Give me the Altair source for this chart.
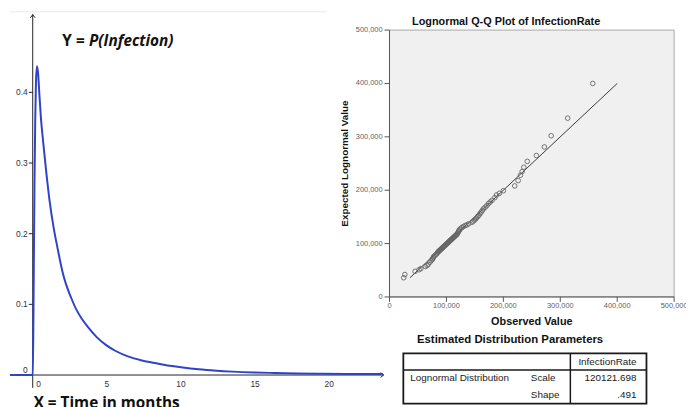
import altair as alt
import pandas as pd

W, H = 686, 399

# ---------------- data ----------------
# left panel: lognormal density curve (time in months vs probability)
curve_x = [-1.53, 0.0, 0.04, 0.08, 0.12, 0.17, 0.22, 0.29, 0.37, 0.45, 0.55, 0.69,
           0.9, 1.13, 1.4, 1.69, 2.0, 2.24, 2.6, 2.91, 3.3, 3.8, 4.3, 4.91, 5.6,
           6.47, 7.3, 8.24, 9.1, 10.0, 11.0, 12.2, 13.5, 14.9, 16.3, 17.8, 19.5,
           21.2, 23.6]
curve_y = [0.0, 0.0, 0.06, 0.17, 0.27, 0.36, 0.415, 0.437, 0.425, 0.397, 0.365, 0.333,
           0.29, 0.248, 0.21, 0.178, 0.147, 0.129, 0.109, 0.094, 0.08, 0.066, 0.054,
           0.043, 0.034, 0.026, 0.021, 0.017, 0.0135, 0.011, 0.0085, 0.0065, 0.0048,
           0.0036, 0.0029, 0.0023, 0.0019, 0.0016, 0.0013]
left_ytick_values = [0.1, 0.2, 0.3, 0.4]
left_ytick_labels = ["0.1", "0.2", "0.3", "0.4"]
left_xtick_values = [5, 10, 15, 20]
left_xtick_labels = ["5", "10", "15", "20"]

# right panel: lognormal Q-Q plot
qq_observed = [25000, 27000, 45000, 52000, 55000, 63000, 66000, 68000, 71000, 73000,
               75000, 76000, 77000, 78000, 80000, 82000, 84000, 85000, 86000, 87000,
               88000, 89000, 90000, 91000, 92000, 93000, 94000, 95000, 96000, 97000,
               98000, 99000, 100000, 101000, 102000, 103000, 104000, 105000, 106000, 107000,
               108000, 109000, 110000, 111000, 112000, 113000, 114000, 115000, 116000, 117000,
               118000, 119000, 120000, 121000, 122000, 123000, 125000, 127000, 130000, 133000,
               136000, 139000, 145000, 147000, 149000, 151000, 153000, 155000, 157000, 159000,
               161000, 163000, 165000, 168000, 171000, 174000, 177000, 180000, 185000, 188000,
               193000, 200000, 220000, 226000, 230000, 233000, 236000, 242000, 258000, 272000,
               284000, 313000, 357000]
qq_expected = [36000, 42000, 48000, 51000, 53000, 57000, 59000, 61000, 65000, 68000,
               70000, 72000, 74000, 76000, 78000, 80000, 82000, 84000, 85000, 86000,
               87000, 88000, 89000, 90000, 91000, 92000, 93000, 94000, 95000, 96000,
               97000, 98000, 99000, 100000, 101000, 102000, 103000, 104000, 105000, 106000,
               107000, 108000, 109000, 110000, 111000, 112000, 113000, 114000, 115000, 116000,
               117000, 118000, 120000, 122000, 124000, 126000, 128000, 130000, 132000, 134000,
               135000, 137000, 140000, 142000, 144000, 146000, 148000, 151000, 153000, 156000,
               159000, 162000, 165000, 168000, 171000, 175000, 178000, 181000, 186000, 191000,
               194000, 199000, 208000, 218000, 228000, 235000, 243000, 254000, 265000, 281000,
               302000, 335000, 400000]
qq_line_x = [36000, 400000]
qq_line_y = [36000, 400000]
qq_tick_values = [0, 100000, 200000, 300000, 400000, 500000]
qq_tick_labels = ["0", "100,000", "200,000", "300,000", "400,000", "500,000"]

table_title = "Estimated Distribution Parameters"
table_header = "InfectionRate"
table_distribution = "Lognormal Distribution"
table_param_names = ["Scale", "Shape"]
table_param_values = ["120121.698", ".491"]

# ---------------- helpers ----------------
def x_domain(v1, p1, v2, p2, width):
    s = (p2 - p1) / (v2 - v1)
    return [v1 - p1 / s, v1 + (width - p1) / s]


def y_domain(v1, p1, v2, p2, height):
    s = (p1 - p2) / (v2 - v1)
    return [v1 - (height - p1) / s, v1 + p1 / s]


def lin(dom):
    return alt.Scale(domain=dom, nice=False, zero=False)


one = pd.DataFrame({"k": [0]})
SANS = "Liberation Sans"
BLUE = "#2e43c8"
AX = "#222222"

# ---------------- left panel ----------------
XL = lin(x_domain(0, 25, 20, 325, W))
YL = lin(y_domain(0, 369, 0.4, 83, H))

axes_df = pd.DataFrame({"x": [0, -1.533], "x2": [0, 23.67],
                        "y": [-0.0182, 0], "y2": [0.5105, 0]})
left_axes = alt.Chart(axes_df).mark_rule(color=AX, strokeWidth=1).encode(
    x=alt.X("x:Q", scale=XL, axis=None), x2="x2:Q",
    y=alt.Y("y:Q", scale=YL, axis=None), y2="y2:Q")

yt_df = pd.DataFrame({"v": [0] + left_ytick_values, "x0": 0.0})
left_yticks = alt.Chart(yt_df).mark_rule(color=AX, strokeWidth=1).encode(
    y=alt.Y("v:Q", scale=YL, axis=None),
    x=alt.X("x0:Q", scale=XL, axis=None), x2=alt.value(21))

yl_df = pd.DataFrame({"v": left_ytick_values, "lab": left_ytick_labels, "x0": 0.0})
left_ylabels = alt.Chart(yl_df).mark_text(
    align="right", baseline="middle", dx=-5, fontSize=8.5, font=SANS, color="#333"
).encode(y=alt.Y("v:Q", scale=YL, axis=None),
         x=alt.X("x0:Q", scale=XL, axis=None), text="lab:N")
zero_y = alt.Chart(pd.DataFrame({"v": [0.0], "x0": [0.0]})).mark_text(
    text="0", align="right", baseline="middle", dx=-5, dy=-5, fontSize=8.5,
    font=SANS, color="#333"
).encode(y=alt.Y("v:Q", scale=YL, axis=None), x=alt.X("x0:Q", scale=XL, axis=None))

xl_df = pd.DataFrame({"v": left_xtick_values, "lab": left_xtick_labels, "y0": 0.0})
left_xlabels = alt.Chart(xl_df).mark_text(
    align="center", baseline="middle", dy=9, fontSize=8.5, font=SANS, color="#333"
).encode(x=alt.X("v:Q", scale=XL, axis=None),
         y=alt.Y("y0:Q", scale=YL, axis=None), text="lab:N")
zero_x = alt.Chart(pd.DataFrame({"v": [0.0], "y0": [0.0]})).mark_text(
    text="0", align="center", baseline="middle", dx=6, dy=9, fontSize=8.5,
    font=SANS, color="#333"
).encode(x=alt.X("v:Q", scale=XL, axis=None), y=alt.Y("y0:Q", scale=YL, axis=None))

up_arrow = alt.Chart(pd.DataFrame({"x": [0.0], "y": [0.5077]})).mark_point(
    shape="M-0.8,0.5L0,-0.5L0.8,0.5", filled=False, size=36, stroke=AX, strokeWidth=1,
    opacity=1
).encode(x=alt.X("x:Q", scale=XL, axis=None), y=alt.Y("y:Q", scale=YL, axis=None))
right_arrow = alt.Chart(pd.DataFrame({"x": [23.57], "y": [0.0]})).mark_point(
    shape="M-0.5,-0.8L0.5,0L-0.5,0.8", filled=False, size=36, stroke=AX, strokeWidth=1,
    opacity=1
).encode(x=alt.X("x:Q", scale=XL, axis=None), y=alt.Y("y:Q", scale=YL, axis=None))

curve_df = pd.DataFrame({"t": curve_x, "p": curve_y})
curve = alt.Chart(curve_df).mark_line(
    color=BLUE, strokeWidth=2, interpolate="monotone"
).encode(x=alt.X("t:Q", scale=XL, axis=None), y=alt.Y("p:Q", scale=YL, axis=None))

left_panel = alt.layer(left_axes, left_yticks, left_ylabels, zero_y, left_xlabels,
                       zero_x, up_arrow, right_arrow, curve)

title_y = alt.Chart(one).mark_text(
    text="Y = ", font="Open Sans", fontWeight="bold", fontSize=15.5, align="left",
    baseline="alphabetic", color="#111").encode(x=alt.value(55), y=alt.value(36))
title_p = alt.Chart(one).mark_text(
    text="P(Infection)", font="Open Sans", fontWeight="bold", fontStyle="italic",
    fontSize=15.5, align="left", baseline="alphabetic", color="#111"
).encode(x=alt.value(82), y=alt.value(36))
title_x = alt.Chart(one).mark_text(
    text="X = Time in months", font="Open Sans", fontWeight="bold", fontSize=15.5,
    align="left", baseline="alphabetic", color="#111"
).encode(x=alt.value(26), y=alt.value(402))
top_line = alt.Chart(one).mark_rule(color="#e8e9ef", strokeWidth=1).encode(
    x=alt.value(2), x2=alt.value(322), y=alt.value(1.5))

# ---------------- right panel: Q-Q plot ----------------
XQ = lin(x_domain(0, 386, 500000, 674, W))
YQ = lin(y_domain(0, 290, 500000, 20, H))

bg = alt.Chart(pd.DataFrame({"x": [0], "x2": [500000], "y": [0], "y2": [500000]})).mark_rect(
    fill="#f0f0f0", stroke="#a8a8a8", strokeWidth=1
).encode(x=alt.X("x:Q", scale=XQ, axis=None), x2="x2:Q",
         y=alt.Y("y:Q", scale=YQ, axis=None), y2="y2:Q")
qq_axes_df = pd.DataFrame({"x": [0, 0], "x2": [0, 500000], "y": [0, 0], "y2": [500000, 0]})
qq_axes = alt.Chart(qq_axes_df).mark_rule(color="#555", strokeWidth=1).encode(
    x=alt.X("x:Q", scale=XQ, axis=None), x2="x2:Q",
    y=alt.Y("y:Q", scale=YQ, axis=None), y2="y2:Q")

qt_df = pd.DataFrame({"v": qq_tick_values, "lab": qq_tick_labels, "z": 0})
qq_yticks = alt.Chart(qt_df).mark_rule(color="#555", strokeWidth=1).encode(
    y=alt.Y("v:Q", scale=YQ, axis=None),
    x=alt.X("z:Q", scale=XQ, axis=None), x2=alt.value(381))
qq_xticks = alt.Chart(qt_df).mark_rule(color="#555", strokeWidth=1).encode(
    x=alt.X("v:Q", scale=XQ, axis=None),
    y=alt.Y("z:Q", scale=YQ, axis=None), y2=alt.value(295))
qq_ylabels = alt.Chart(qt_df).mark_text(
    align="right", baseline="middle", dx=-7, fontSize=7.5, font=SANS, color="#606060"
).encode(y=alt.Y("v:Q", scale=YQ, axis=None),
         x=alt.X("z:Q", scale=XQ, axis=None), text="lab:N")
qq_xlabels = alt.Chart(qt_df).mark_text(
    align="center", baseline="middle", dy=9, fontSize=7.5, font=SANS, color="#606060"
).encode(x=alt.X("v:Q", scale=XQ, axis=None),
         y=alt.Y("z:Q", scale=YQ, axis=None), text="lab:N")

qq_line = alt.Chart(pd.DataFrame({"o": qq_line_x, "e": qq_line_y})).mark_line(
    color="#3a3a3a", strokeWidth=1
).encode(x=alt.X("o:Q", scale=XQ, axis=None), y=alt.Y("e:Q", scale=YQ, axis=None))
qq_points = alt.Chart(pd.DataFrame({"o": qq_observed, "e": qq_expected})).mark_point(
    shape="circle", filled=False, size=22, stroke="#666", strokeWidth=0.9, opacity=1
).encode(x=alt.X("o:Q", scale=XQ, axis=None), y=alt.Y("e:Q", scale=YQ, axis=None))

qq_panel = alt.layer(bg, qq_axes, qq_yticks, qq_xticks, qq_ylabels, qq_xlabels,
                     qq_line, qq_points)

qq_title = alt.Chart(one).mark_text(
    text="Lognormal Q-Q Plot of InfectionRate", font=SANS, fontWeight="bold",
    fontSize=11, align="center", baseline="middle", color="#111"
).encode(x=alt.value(504), y=alt.value(12))
qq_ytitle = alt.Chart(one).mark_text(
    text="Expected Lognormal Value", font=SANS, fontWeight="bold", fontSize=10,
    align="center", baseline="middle", angle=270, color="#111"
).encode(x=alt.value(341), y=alt.value(155))
qq_xtitle = alt.Chart(one).mark_text(
    text="Observed Value", font=SANS, fontWeight="bold", fontSize=11,
    align="center", baseline="middle", color="#111"
).encode(x=alt.value(530), y=alt.value(315))

# ---------------- table ----------------
TL, TR, TT, TH, TB, TD = 400, 646, 347, 364, 398, 569
tbl_title = alt.Chart(one).mark_text(
    text=table_title, font=SANS, fontWeight="bold", fontSize=11.5,
    align="center", baseline="middle", color="#111"
).encode(x=alt.value(508), y=alt.value(334))
tbl_border = alt.Chart(one).mark_rect(
    fillOpacity=0, stroke="#1a1a1a", strokeWidth=1.8
).encode(x=alt.value(TL), x2=alt.value(TR), y=alt.value(TT), y2=alt.value(TB))
tbl_hline = alt.Chart(one).mark_rule(color="#1a1a1a", strokeWidth=1.5).encode(
    x=alt.value(TL), x2=alt.value(TR), y=alt.value(TH))
tbl_vline = alt.Chart(one).mark_rule(color="#1a1a1a", strokeWidth=1.5).encode(
    x=alt.value(TD), y=alt.value(TT), y2=alt.value(TB))


def cell(text, x, y, align):
    return alt.Chart(one).mark_text(
        text=text, font=SANS, fontSize=10, align=align, baseline="middle", color="#222"
    ).encode(x=alt.value(x), y=alt.value(y))


tbl_cells = [
    cell(table_header, 636, 355.5, "right"),
    cell(table_distribution, 407, 372.5, "left"),
    cell(table_param_names[0], 529, 372.5, "left"),
    cell(table_param_names[1], 529, 389.5, "left"),
    cell(table_param_values[0], 636, 372.5, "right"),
    cell(table_param_values[1], 636, 389.5, "right"),
]

chart = alt.layer(
    left_panel, qq_panel, top_line, title_y, title_p, title_x,
    qq_title, qq_ytitle, qq_xtitle, tbl_title, tbl_border, tbl_hline, tbl_vline,
    *tbl_cells
).resolve_scale(x="independent", y="independent").properties(
    width=W, height=H, padding=0, background="white",
    autosize=alt.AutoSizeParams(type="none")
).configure_view(stroke=None)

chart.save("out.html", embed_options={"renderer": "svg", "actions": False})
